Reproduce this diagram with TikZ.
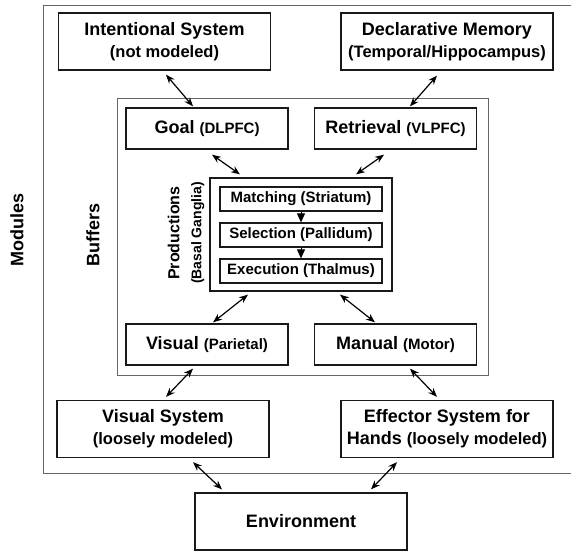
\documentclass[tikz,border=0pt]{standalone}
\usepackage{fontspec}
\setmainfont{Liberation Sans}
\usetikzlibrary{arrows.meta,positioning,calc}
\newcommand{\modnote}[1]{{\fontsize{16.5}{20}\selectfont #1}}
\newcommand{\bufnote}[1]{{\fontsize{15}{18}\selectfont #1}}

\tikzset{
  module/.style={draw=black!90,line width=1.3pt,minimum width=212pt,minimum height=57pt,
    inner sep=0pt,align=center,font=\fontsize{18}{22}\selectfont\bfseries},
  buffer/.style={module,minimum width=162pt,minimum height=41pt},
  stage/.style={draw=black!90,line width=1.2pt,minimum width=162pt,minimum height=24pt,
    inner sep=0pt,font=\fontsize{15}{17}\selectfont\bfseries},
  link/.style={{Stealth[length=9pt,width=7pt]}-{Stealth[length=9pt,width=7pt]},line width=1.2pt},
  frame/.style={draw=black!60,line width=0.9pt},
  side/.style={rotate=90,align=center,font=\fontsize{18}{22}\selectfont\bfseries}
}

\begin{document}
\begin{tikzpicture}[x=1pt,y=-1pt]
\useasboundingbox (0,0) rectangle (571,550);
% outer frames
\draw[frame] (571,5)--(43,5)--(43,473)--(571,473);
\draw[frame] (117,98) rectangle (488,375);
\node[side] (modules) at (17,230) {Modules};
\node[side] (buffers) at (93,235) {Buffers};
% modules
\node[module] (intent) at (164.5,41.5) {Intentional System\\\modnote{(not modeled)}};
\node[module] (decl) at (447,41.5) {Declarative Memory\\\modnote{(Temporal/Hippocampus)}};
\node[module] (vissys) at (163,429) {Visual System\\\modnote{(loosely modeled)}};
\node[module] (eff) at (447,429) {Effector System for\\Hands \modnote{(loosely modeled)}};
\node[module] (env) at (301,521.5) {Environment};
% buffers
\node[buffer] (goal) at (207,128.5) {Goal \bufnote{(DLPFC)}};
\node[buffer] (retr) at (395.5,128.5) {Retrieval \bufnote{(VLPFC)}};
\node[buffer] (visbuf) at (207,344.5) {Visual \bufnote{(Parietal)}};
\node[buffer] (manbuf) at (395.5,344.5) {Manual \bufnote{(Motor)}};
% productions
\node[draw=black!90,line width=1.2pt,minimum width=182pt,minimum height=113pt] (prod) at (301,234.5) {};
\node[side] (prodlabel) at (186,233) {\fontsize{16}{21}\selectfont Productions\\\fontsize{14}{21}\selectfont(Basal Ganglia)};
\node[stage] (match) at (301,199) {Matching (Striatum)};
\node[stage] (sel) at (301,235) {Selection (Pallidum)};
\node[stage] (exec) at (301,271) {Execution (Thalmus)};
\draw[-{Triangle[length=9pt,width=8pt]},line width=1pt] (match) -- (sel);
\draw[-{Triangle[length=9pt,width=8pt]},line width=1pt] (sel) -- (exec);
% connectors
\draw[link] ([xshift=1.5pt,yshift=-4pt]intent.south) -- ([xshift=-14pt,yshift=1pt]goal.north);
\draw[link] ([xshift=-10pt,yshift=-5pt]decl.south) -- ([xshift=14.5pt,yshift=1pt]retr.north);
\draw[link] ([xshift=5pt,yshift=-5pt]goal.south) -- ([xshift=-61pt,yshift=3pt]prod.north);
\draw[link] ([xshift=-11.5pt,yshift=-5pt]retr.south) -- ([xshift=55pt,yshift=3pt]prod.north);
\draw[link] ([xshift=-53pt,yshift=-3pt]prod.south) -- ([xshift=6pt,yshift=1pt]visbuf.north);
\draw[link] ([xshift=39pt,yshift=-3pt]prod.south) -- ([xshift=-20.5pt,yshift=1pt]manbuf.north);
\draw[link] ([xshift=-14pt,yshift=-3pt]visbuf.south) -- ([xshift=3pt,yshift=3pt]vissys.north);
\draw[link] ([xshift=14.5pt,yshift=-3pt]manbuf.south) -- ([xshift=-10pt,yshift=3pt]eff.north);
\draw[link] ([xshift=30pt,yshift=-4pt]vissys.south) -- ([xshift=-79pt,yshift=3pt]env.north);
\draw[link] ([xshift=-50pt,yshift=-4pt]eff.south) -- ([xshift=70pt,yshift=3pt]env.north);
\end{tikzpicture}
\end{document}
